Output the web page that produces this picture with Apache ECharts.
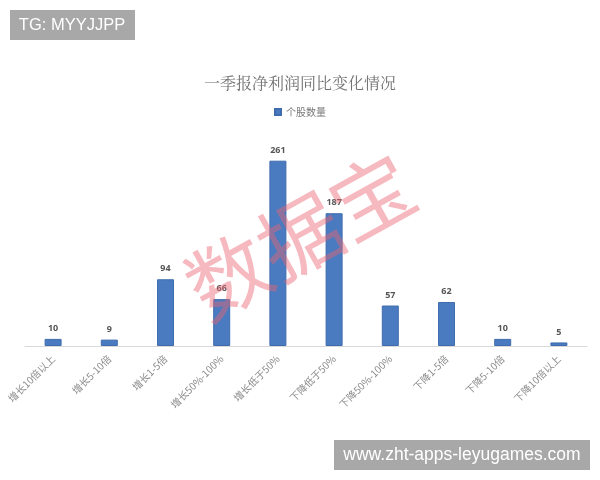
<!DOCTYPE html>
<html><head><meta charset="utf-8">
<script src="https://cdn.jsdelivr.net/npm/echarts@6/dist/echarts.min.js"></script>
<style>html,body{margin:0;padding:0;background:#fff}#c{width:600px;height:480px}</style>
</head><body><div id="c"></div>
<script>
const categories = ['增长10倍以上','增长5-10倍','增长1-5倍','增长50%-100%','增长低于50%','下降低于50%','下降50%-100%','下降1-5倍','下降5-10倍','下降10倍以上'];
const values = [10, 9, 94, 66, 261, 187, 57, 62, 10, 5];
const chart = echarts.init(document.getElementById('c'));
chart.setOption({
  animation: false,
  backgroundColor: '#fff',
  title: {
    text: '一季报净利润同比变化情况', left: 'center', top: 70,
    textStyle: {fontFamily: 'Noto Serif CJK SC, Noto Sans CJK SC, serif', fontSize: 16, fontWeight: 'normal', color: '#707070'}
  },
  legend: {
    data: ['个股数量'], top: 102, left: 'center', itemWidth: 6, itemHeight: 6, icon: 'rect',
    textStyle: {fontFamily: 'Noto Sans CJK SC', fontSize: 10, color: '#777'}
  },
  grid: {left: 25, right: 13, top: 133, bottom: 134},
  xAxis: {
    type: 'category', data: categories,
    axisLine: {lineStyle: {color: '#d9d9d9', width: 1}},
    axisTick: {show: false},
    axisLabel: {rotate: 45, interval: 0, fontSize: 10, color: '#8a8a8a', fontFamily: 'Noto Sans CJK SC', margin: 11}
  },
  yAxis: {type: 'value', min: 0, max: 300, show: false, splitLine: {show: false}},
  series: [{
    name: '个股数量', type: 'bar', data: values, barWidth: 17,
    itemStyle: {color: '#4a7bc0', borderColor: '#3f6cad', borderWidth: 1},
    label: {show: true, position: 'top', distance: 6, fontSize: 9, fontWeight: 'bold', color: '#555', fontFamily: 'Noto Sans'}
  }],
  graphic: [
    {type: 'text', x: 300, y: 236, rotation: 29 * Math.PI / 180, z: 100,
     style: {text: '数据宝', fontSize: 82, fontFamily: 'Noto Sans CJK SC', fill: 'rgba(236,100,112,0.45)', align: 'center', verticalAlign: 'middle'}},
    {type: 'rect', shape: {x: 10, y: 10, width: 125, height: 30}, style: {fill: '#a8a8a8'}, z: 101},
    {type: 'text', x: 72, y: 25, z: 102, style: {text: 'TG: MYYJJPP', fontSize: 16.5, fontFamily: 'Liberation Sans, Arial', fill: '#fff', align: 'center', verticalAlign: 'middle'}},
    {type: 'rect', shape: {x: 334, y: 440, width: 256, height: 30}, style: {fill: '#a8a8a8'}, z: 101},
    {type: 'text', x: 462, y: 455, z: 102, style: {text: 'www.zht-apps-leyugames.com', fontSize: 17.5, fontFamily: 'Liberation Sans, Arial', fill: '#fff', align: 'center', verticalAlign: 'middle'}}
  ]
});
</script></body></html>
